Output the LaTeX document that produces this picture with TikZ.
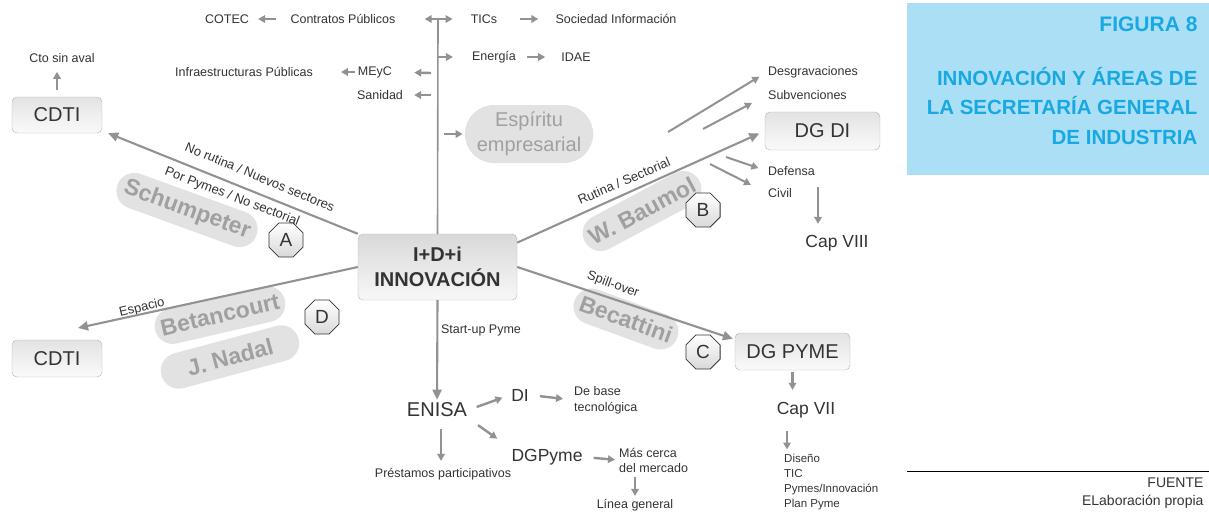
\documentclass[tikz,border=0pt]{standalone}
\usepackage{fontspec}
\setmainfont{Liberation Sans}
\usetikzlibrary{arrows.meta,shapes.geometric,shapes.misc}
\definecolor{titlebg}{HTML}{ABDFF6}
\definecolor{titlefg}{HTML}{19A9E2}
\definecolor{linegray}{HTML}{929292}
\definecolor{txtgray}{HTML}{333333}
\definecolor{blobfill}{HTML}{E2E2E2}
\definecolor{blobtext}{HTML}{A0A0A0}
\begin{document}
\begin{tikzpicture}
    [
        x = 1pt, y = -1pt,
        lbl/.style = {text=txtgray, font=\fontsize{12.5}{15.5}\selectfont, inner sep=1pt},
        mid/.style = {text=txtgray, font=\fontsize{17.5}{20}\selectfont, inner sep=1pt},
        slant/.style = {text=txtgray, font=\fontsize{13}{15}\selectfont, inner sep=1pt},
        gbox/.style = {draw=gray!60, rounded corners=5pt, top color=gray!22, bottom color=gray!4,
            text=txtgray, font=\fontsize{20}{22}\selectfont, minimum height=37pt},
        gblob/.style = {rounded rectangle, fill=blobfill, text=blobtext,
            font=\bfseries\fontsize{23}{25}\selectfont, inner xsep=4pt, minimum height=36pt},
        octo/.style = {regular polygon, regular polygon sides=8, draw=gray!40!black, line width=0.8pt,
            top color=white, bottom color=gray!30, text=txtgray, font=\fontsize{19}{19}\selectfont,
            minimum size=37pt, inner sep=0pt},
        conn/.style = {draw=linegray, line width=2.1pt},
        arr/.style = {conn, -{Triangle[length=10pt,width=9pt]}},
        sarr/.style = {draw=linegray, line width=2.4pt, -{Triangle[length=7pt,width=7.5pt]}},
    ]
    \useasboundingbox (0,0) rectangle (1209,512);

    \fill[titlebg] (907,3) rectangle (1209,175);
    \node[anchor=east, text=titlefg, font=\bfseries\fontsize{21}{24}\selectfont] (fig) at (1201,24) {FIGURA 8};
    \node[anchor=east, align=right, text=titlefg, font=\bfseries\fontsize{20.5}{29.5}\selectfont] (title) at (1201,106)
        {INNOVACIÓN Y ÁREAS DE\\LA SECRETARÍA GENERAL\\DE INDUSTRIA};
    \draw[black, line width=0.8pt] (907,471) -- (1209,471);
    \node[anchor=east, align=right, text=txtgray, font=\fontsize{14}{18.5}\selectfont] (fuente) at (1207,493)
        {FUENTE\\ELaboración propia};

    \node[gblob, rotate=-20] (schumpeter) at (187,210) {Schumpeter};
    \node[gblob, rotate=28] (baumol) at (642,211) {W. Baumol};
    \node[gblob, rotate=-20] (becattini) at (626,319) {Becattini};
    \node[gblob, rotate=13] (betancourt) at (220,315) {Betancourt};
    \node[gblob, rotate=15, minimum width=150pt] (nadal) at (230,357) {J. Nadal};
    \node[rounded rectangle, fill=blobfill, text=blobtext, align=center, minimum width=135pt, minimum height=58pt,
        font=\fontsize{20}{25}\selectfont] (espiritu) at (529,134) {Espíritu\\empresarial};

    \node[gbox, minimum width=159pt, minimum height=66pt, align=center, font=\bfseries\fontsize{20}{25}\selectfont,
        top color=gray!30, bottom color=gray!6] (core) at (437.5,267) {I+D+i\\INNOVACIÓN};
    \node[gbox, minimum width=90pt, minimum height=36pt] (cdtiA) at (57,115) {CDTI};
    \node[gbox, minimum width=90pt] (cdtiB) at (57,358.5) {CDTI};
    \node[gbox, minimum width=115pt, minimum height=38pt] (dgdi) at (822.5,131) {DG DI};
    \node[gbox, minimum width=115pt] (dgpyme) at (792.5,351.5) {DG PYME};

    \node[octo] (octA) at (286,240) {A};
    \node[octo] (octB) at (703,210) {B};
    \node[octo] (octC) at (703,352) {C};
    \node[octo] (octD) at (322,317) {D};

    \node[lbl] (cotec) at (227,19) {COTEC};
    \node[lbl] (contratos) at (343,19) {Contratos Públicos};
    \node[lbl] (tics) at (484,19) {TICs};
    \node[lbl] (sociedad) at (616,19) {Sociedad Información};
    \node[lbl] (energia) at (494,57) {Energía};
    \node[lbl] (idae) at (576,57) {IDAE};
    \node[lbl] (infra) at (244,72) {Infraestructuras Públicas};
    \node[lbl] (meyc) at (375,72) {MEyC};
    \node[lbl] (sanidad) at (380,95) {Sanidad};
    \node[lbl] (cto) at (62,58) {Cto sin aval};

    \node[lbl, anchor=west] (desgrav) at (767,72) {Desgravaciones};
    \node[lbl, anchor=west] (subv) at (767,95) {Subvenciones};
    \node[lbl, anchor=west] (defensa) at (767,171) {Defensa};
    \node[lbl, anchor=west] (civil) at (767,193) {Civil};
    \node[mid] (capviii) at (837,243) {Cap VIII};
    \node[mid] (capvii) at (806,410) {Cap VII};
    \node[lbl, anchor=west, align=left, font=\fontsize{11.5}{15.3}\selectfont] (areas) at (783,482)
        {Diseño\\TIC\\Pymes/Innovación\\Plan Pyme};

    \node[text=txtgray, font=\fontsize{20}{22}\selectfont, inner sep=1pt] (enisa) at (437,410) {ENISA};
    \node[mid] (di) at (520,395) {DI};
    \node[lbl, anchor=west, align=left, font=\fontsize{12.5}{16}\selectfont] (debase) at (573,400) {De base\\tecnológica};
    \node[lbl] (prestamos) at (443,474) {Préstamos participativos};
    \node[mid] (dgpymeB) at (547,457) {DGPyme};
    \node[lbl, anchor=west, align=left, font=\fontsize{12.5}{15}\selectfont] (cerca) at (618,460) {Más cerca\\del mercado};
    \node[lbl] (linea) at (635,505) {Línea general};

    \node[slant, rotate=-22.6] (norutina) at (260,177) {No rutina / Nuevos sectores};
    \node[slant, rotate=-21] (porpymes) at (232,197) {Por Pymes / No sectorial};
    \node[slant, rotate=23.4] (rutina) at (624,181) {Rutina / Sectorial};
    \node[slant, rotate=-20] (spill) at (613,285) {Spill-over};
    \node[slant, rotate=13.6] (espacio) at (142,308) {Espacio};
    \node[lbl] (startup) at (481,330) {Start-up Pyme};

    \coordinate (top) at (438,19);
    \coordinate (toEnergia) at (438,57);
    \coordinate (toMeyc) at (431,73);
    \coordinate (toSanidad) at (431,95);
    \coordinate (toEspiritu) at (444,134);
    \coordinate (toCdtiB) at (78,328);
    \coordinate (fromDesgrav) at (668,132);
    \coordinate (fromSubv) at (703,129);
    \coordinate (fromDefensa) at (726,157);
    \coordinate (fromCivil) at (710,164);

    \draw[conn, line width=1.6pt] (core.north) -- (top);
    \draw[arr] (core.north west) -- ([xshift=6pt]cdtiA.south east);
    \draw[arr, shorten >=6pt] (core.17) -- (dgdi.west);
    \draw[arr, shorten >=2pt] (core.east) -- ([yshift=12pt]dgpyme.west);
    \draw[arr] (core.west) -- (toCdtiB);
    \draw[arr, shorten >=2pt] (core.south) -- (enisa.north);

    \draw[sarr, shorten <=13pt, shorten >=8pt] (contratos) -- (cotec);
    \draw[sarr, {Triangle[length=7pt,width=7.5pt]}-{Triangle[length=7pt,width=7.5pt]}, shorten <=28pt, shorten >=17pt] (contratos.east) -- (tics.west);
    \draw[sarr, shorten <=22pt, shorten >=16pt] (tics.east) -- (sociedad.west);
    \draw[sarr, shorten >=18pt] (toEnergia) -- (energia.west);
    \draw[sarr, shorten <=10pt, shorten >=15pt] (energia.east) -- (idae.west);
    \draw[sarr, shorten <=2pt, shorten >=27pt] (meyc.west) -- (infra.east);
    \draw[sarr, shorten >=21pt] (toMeyc) -- (meyc.east);
    \draw[sarr, shorten >=10pt] (toSanidad) -- (sanidad.east);
    \draw[sarr, shorten >=2pt] (toEspiritu) -- (espiritu.west);
    \draw[sarr, shorten <=7pt, shorten >=8pt] (cdtiA.north) -- (cdtiA.north |- cto.south);

    \draw[sarr, line width=2pt, shorten >=9pt] (fromDesgrav) -- (desgrav.west);
    \draw[sarr, line width=2pt, shorten >=17pt] (fromSubv) -- (subv.west);
    \draw[sarr, line width=2pt, shorten >=9pt] (fromDefensa) -- (defensa.west);
    \draw[sarr, line width=2pt, shorten >=18pt] (fromCivil) -- (civil.west);
    \draw[sarr, shorten >=10pt] ([xshift=-19pt]capviii.north |- civil.north) -- ([xshift=-19pt]capviii.north);
    \draw[sarr, shorten <=2pt, shorten >=11pt] (dgpyme.south) -- (dgpyme.south |- capvii.north);
    \draw[sarr, shorten <=12pt, shorten >=3pt] ([xshift=-19pt]capvii.south) -- ([xshift=-19pt]capvii.south |- areas.north);

    \draw[sarr, shorten <=9pt, shorten >=8pt] (enisa.east) -- (di.west);
    \draw[sarr, shorten <=10pt, shorten >=10pt] (di.east) -- (debase.west);
    \draw[sarr, shorten <=11pt, shorten >=6pt] ([xshift=4pt]enisa.south) -- ([xshift=4pt]enisa.south |- prestamos.north);
    \draw[sarr, shorten <=12pt, shorten >=16pt] (enisa.south east) -- (dgpymeB.north west);
    \draw[sarr, shorten <=10pt, shorten >=3pt] (dgpymeB.east) -- (cerca.west);
    \draw[sarr, shorten <=4pt, shorten >=2pt] (linea.north |- cerca.south) -- (linea.north);
\end{tikzpicture}
\end{document}
